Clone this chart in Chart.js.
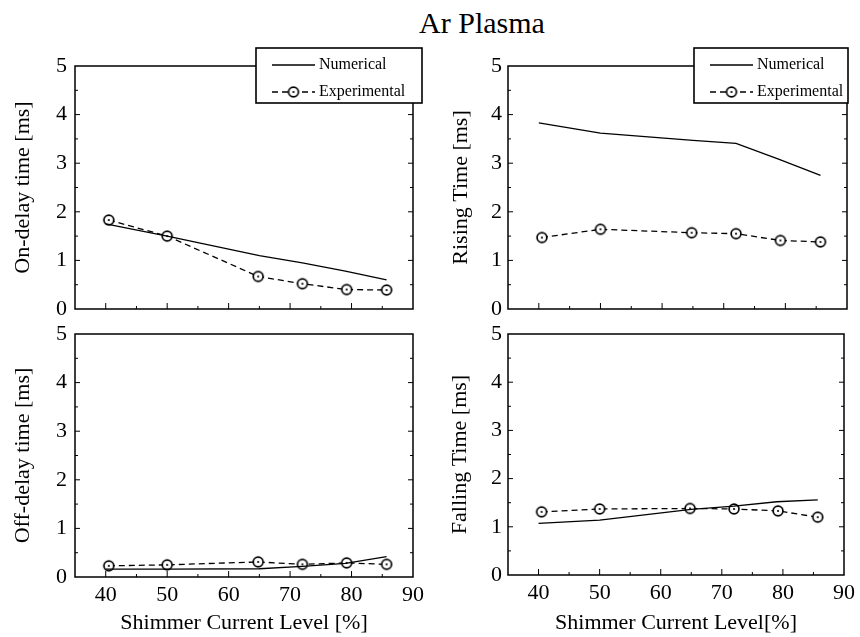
<!DOCTYPE html>
<html>
<head>
<meta charset="utf-8">
<script src="https://cdn.jsdelivr.net/npm/chart.js@4/dist/chart.umd.min.js"></script>
<style>
  body { margin: 0; background: #fff; }
  #wrap { position: relative; width: 860px; height: 637px; }
  #wrap canvas { position: absolute; left: 0; top: 0; pointer-events: none; }
  #title { position: absolute; left: 0; top: 8px; width: 964px; text-align: center;
           font: 30px "Liberation Serif", serif; line-height: 30px; color: #000; }
</style>
</head>
<body>
<div id="wrap">
  <div id="title">Ar Plasma</div>
  <canvas id="c1" width="860" height="637"></canvas>
  <canvas id="c2" width="860" height="637"></canvas>
  <canvas id="c3" width="860" height="637"></canvas>
  <canvas id="c4" width="860" height="637"></canvas>
</div>
<script>
// shimmer current level [%]
const numX = [40, 50, 65, 72, 79, 85.7];
const expX = [40.5, 50, 64.8, 72, 79.2, 85.7];
const xTickVals = [40, 50, 60, 70, 80, 90];
const yTickVals = [0, 1, 2, 3, 4, 5];

// times [ms]
const onDelayNum  = [1.75, 1.5, 1.1, 0.95, 0.78, 0.6];
const onDelayExp  = [1.83, 1.5, 0.67, 0.52, 0.4, 0.39];
const risingNum   = [3.83, 3.62, 3.47, 3.41, 3.08, 2.75];
const risingExp   = [1.47, 1.64, 1.57, 1.55, 1.41, 1.38];
const offDelayNum = [0.16, 0.16, 0.17, 0.22, 0.28, 0.42];
const offDelayExp = [0.23, 0.25, 0.31, 0.26, 0.29, 0.26];
const fallingNum  = [1.07, 1.14, 1.36, 1.43, 1.52, 1.56];
const fallingExp  = [1.31, 1.37, 1.38, 1.37, 1.33, 1.2];

Chart.defaults.color = '#000';
Chart.defaults.font.family = '"Liberation Serif", serif';

// circle marker with a dot in the middle
const marker = document.createElement('canvas');
marker.width = 14; marker.height = 14;
(function () {
    const m = marker.getContext('2d');
    m.fillStyle = '#fff';
    m.strokeStyle = '#000';
    m.lineWidth = 1.7;
    m.beginPath(); m.arc(7, 7, 4.9, 0, Math.PI * 2); m.fill(); m.stroke();
    m.fillStyle = '#000';
    m.beginPath(); m.arc(7, 7, 1.1, 0, Math.PI * 2); m.fill();
})();

function mids(arr) {
    const out = [];
    for (let i = 0; i < arr.length - 1; i++) out.push((arr[i] + arr[i + 1]) / 2);
    return out;
}

// frame + inward tick marks
const frameTicks = {
    id: 'frameTicks',
    afterDatasetsDraw(chart) {
        const { ctx, chartArea: a, scales: { x, y } } = chart;
        ctx.save();
        ctx.strokeStyle = '#000';
        ctx.lineWidth = 1.5;
        ctx.strokeRect(a.left, a.top, a.right - a.left, a.bottom - a.top);
        ctx.lineWidth = 1;
        ctx.beginPath();
        const tick = (vals, len) => {
            vals.forEach(v => {
                const py = y.getPixelForValue(v);
                ctx.moveTo(a.left, py); ctx.lineTo(a.left + len, py);
                ctx.moveTo(a.right, py); ctx.lineTo(a.right - len, py);
            });
        };
        tick(yTickVals.slice(1, -1), 5);
        tick(mids(yTickVals), 3);
        xTickVals.slice(0, -1).forEach(v => {
            const px = x.getPixelForValue(v);
            ctx.moveTo(px, a.bottom); ctx.lineTo(px, a.bottom - 6);
        });
        mids(xTickVals).forEach(v => {
            const px = x.getPixelForValue(v);
            ctx.moveTo(px, a.bottom); ctx.lineTo(px, a.bottom - 3);
        });
        ctx.stroke();
        ctx.restore();
    }
};

// boxed legend sitting over the top-right corner
const boxLegend = {
    id: 'boxLegend',
    afterDraw(chart, args, opts) {
        const b = opts.box;
        if (!b) return;
        const ctx = chart.ctx;
        ctx.save();
        ctx.fillStyle = '#fff';
        ctx.fillRect(b.left, b.top, b.right - b.left, b.bottom - b.top);
        ctx.strokeStyle = '#000';
        ctx.lineWidth = 1.6;
        ctx.strokeRect(b.left, b.top, b.right - b.left, b.bottom - b.top);
        chart.data.datasets.forEach((ds, i) => {
            const yy = b.top + 17 + i * 27;
            const x1 = b.left + 16, x2 = x1 + 43;
            ctx.lineWidth = ds.borderWidth;
            ctx.setLineDash(ds.borderDash || []);
            ctx.beginPath(); ctx.moveTo(x1, yy); ctx.lineTo(x2, yy); ctx.stroke();
            ctx.setLineDash([]);
            if (ds.pointRadius > 0) ctx.drawImage(marker, (x1 + x2) / 2 - 7, yy - 7);
            ctx.fillStyle = '#000';
            ctx.font = '16px "Liberation Serif", serif';
            ctx.textBaseline = 'middle';
            ctx.fillText(ds.label, x2 + 4, yy);
        });
        ctx.restore();
    }
};

function pts(xs, ys) {
    return xs.map((x, i) => ({ x: x, y: ys[i] }));
}

function drawPanel(p) {
    const xH = p.xTitle ? 637 - p.area.bottom : 0;
    new Chart(document.getElementById(p.id), {
        type: 'line',
        data: {
            datasets: [{
                label: 'Numerical',
                data: pts(numX, p.num),
                borderColor: '#000',
                borderWidth: 1.3,
                pointRadius: 0,
                tension: 0
            }, {
                label: 'Experimental',
                data: pts(expX, p.exp),
                borderColor: '#000',
                borderWidth: 1.3,
                borderDash: [6, 4],
                pointStyle: marker,
                pointRadius: 5,
                tension: 0
            }]
        },
        options: {
            responsive: false,
            animation: false,
            events: [],
            layout: {
                padding: {
                    left: p.x0,
                    top: p.area.top,
                    right: 860 - p.area.right,
                    bottom: 637 - p.area.bottom - xH
                }
            },
            plugins: {
                legend: { display: false },
                tooltip: { enabled: false },
                boxLegend: { box: p.legend }
            },
            scales: {
                x: {
                    type: 'linear',
                    min: 35,
                    max: 90,
                    grid: { display: false, drawTicks: false },
                    border: { display: false },
                    afterBuildTicks: s => { s.ticks = xTickVals.map(v => ({ value: v })); },
                    afterFit: s => { s.height = xH; },
                    ticks: { display: !!p.xTitle, padding: 5, font: { size: 22 } },
                    title: {
                        display: !!p.xTitle,
                        text: p.xTitle,
                        font: { size: 22 },
                        padding: { top: 0, bottom: 1 }
                    }
                },
                y: {
                    min: 0,
                    max: 5,
                    grid: { display: false, drawTicks: false },
                    border: { display: false },
                    afterBuildTicks: s => { s.ticks = yTickVals.map(v => ({ value: v })); },
                    afterFit: s => { s.width = p.area.left - p.x0; },
                    ticks: { padding: p.tickPad, font: { size: 22 } },
                    title: {
                        display: true,
                        text: p.yTitle,
                        font: { size: 22 },
                        padding: { top: p.titlePad, bottom: 0 }
                    }
                }
            }
        },
        plugins: [frameTicks, boxLegend]
    });
}

drawPanel({ id: 'c1', x0: 0, area: { left: 75, top: 66, right: 413, bottom: 309 },
    yTitle: 'On-delay time [ms]', num: onDelayNum, exp: onDelayExp,
    tickPad: 8, titlePad: 10, legend: { left: 256, top: 48, right: 422, bottom: 103 } });
drawPanel({ id: 'c2', x0: 430, area: { left: 508, top: 66, right: 847, bottom: 309 },
    yTitle: 'Rising Time [ms]', num: risingNum, exp: risingExp,
    tickPad: 6, titlePad: 18, legend: { left: 694, top: 48, right: 848, bottom: 103 } });
drawPanel({ id: 'c3', x0: 0, area: { left: 75, top: 334, right: 413, bottom: 577 },
    yTitle: 'Off-delay time [ms]', num: offDelayNum, exp: offDelayExp,
    tickPad: 8, titlePad: 10, xTitle: 'Shimmer Current Level [%]' });
drawPanel({ id: 'c4', x0: 430, area: { left: 508, top: 334, right: 847, bottom: 575 },
    yTitle: 'Falling Time [ms]', num: fallingNum, exp: fallingExp,
    tickPad: 6, titlePad: 17, xTitle: 'Shimmer Current Level[%]' });
</script>
</body>
</html>
